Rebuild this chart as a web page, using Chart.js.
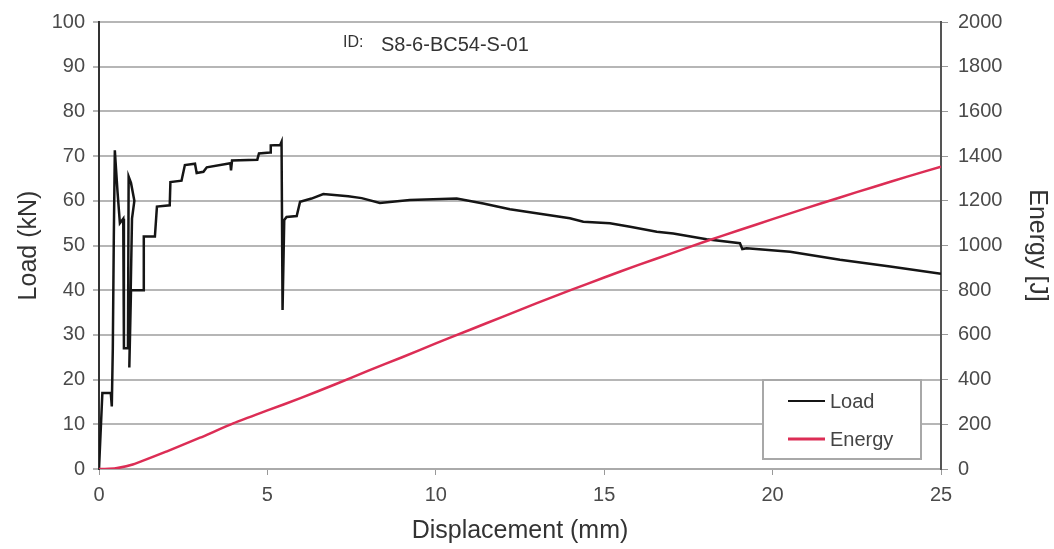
<!DOCTYPE html>
<html>
<head>
<meta charset="utf-8">
<script src="https://cdn.jsdelivr.net/npm/chart.js@4.4.1/dist/chart.umd.min.js"></script>
<style>
  html, body { margin: 0; padding: 0; background: #fff; }
  #wrap { width: 1054px; height: 549px; }
</style>
</head>
<body>
<div id="wrap"><canvas id="loadChart" width="1054" height="549"></canvas></div>
<script>
// Load curve (displacement in mm, load in kN)
const loadDisp = [0, 0.1, 0.35, 0.38, 0.41, 0.44, 0.47, 0.55, 0.62, 0.72, 0.74, 0.86, 0.88, 0.95, 1.05, 0.98, 0.9, 0.95, 1.32, 1.33, 1.66, 1.72, 2.1, 2.12, 2.45, 2.55, 2.85, 2.9, 3.1, 3.2, 3.9, 3.92, 3.95, 4.7, 4.75, 5.08, 5.1, 5.38, 5.42, 5.45, 5.5, 5.57, 5.87, 5.97, 6.31, 6.66, 7.4, 7.8, 8.34, 9.23, 10.62, 11.41, 12.2, 12.99, 13.98, 14.38, 15.17, 15.77, 16.56, 17.05, 18.04, 19.03, 19.1, 19.23, 20.52, 22.0, 23.49, 25.0];
const loadVals = [0, 17, 17, 14, 27, 52, 71.3, 62, 55, 56, 27, 27, 65.4, 64, 60, 56, 22.7, 40, 40, 52, 52, 58.7, 59, 64.2, 64.5, 68, 68.3, 66.2, 66.5, 67.5, 68.4, 66.8, 69, 69.2, 70.6, 70.8, 72.4, 72.5, 73.2, 35.6, 55.7, 56.4, 56.6, 59.8, 60.5, 61.5, 61, 60.6, 59.5, 60.2, 60.5, 59.4, 58.1, 57.2, 56.1, 55.3, 55.0, 54.2, 53.1, 52.7, 51.4, 50.5, 49.2, 49.4, 48.6, 46.8, 45.3, 43.7];

// Energy curve (displacement in mm, energy in J)
const energyDisp = [0, 0.1, 0.5, 1, 2, 3, 4, 5, 6, 7, 8, 9, 10, 11, 12, 13, 14, 15, 16, 17, 18, 19, 20, 21, 22, 23, 24, 25];
const energyVals = [0, 0, 3, 20, 78, 140, 205, 262, 318, 378, 440, 500, 562, 622, 682, 742, 800, 857, 912, 965, 1018, 1068, 1118, 1167, 1215, 1262, 1308, 1353];

const specimenId = 'S8-6-BC54-S-01';
const loadColor = '#151515';
const energyColor = '#dc2d55';

const toPoints = (xs, ys) => xs.map((x, i) => ({ x: x, y: ys[i] }));

// draws the ID caption and the boxed legend inside the plot
const overlayPlugin = {
  id: 'overlay',
  afterDatasetsDraw(chart) {
    const { ctx, chartArea } = chart;
    ctx.save();
    ctx.textBaseline = 'middle';
    ctx.fillStyle = '#333';
    ctx.font = '16px "Liberation Sans", Arial, sans-serif';
    ctx.fillText('ID:', chartArea.left + 244, 43);
    ctx.font = '20px "Liberation Sans", Arial, sans-serif';
    ctx.fillText(specimenId, chartArea.left + 282, 45);

    // legend box
    const bx = chartArea.right - 178, by = chartArea.bottom - 89, bw = 158, bh = 79;
    ctx.fillStyle = '#fff';
    ctx.fillRect(bx, by, bw, bh);
    ctx.strokeStyle = '#a8a8a8';
    ctx.lineWidth = 2;
    ctx.strokeRect(bx, by, bw, bh);
    const items = [['Load', loadColor, 2], ['Energy', energyColor, 3]];
    items.forEach((it, i) => {
      const y = by + 21 + i * 38;
      ctx.strokeStyle = it[1];
      ctx.lineWidth = it[2];
      ctx.beginPath();
      ctx.moveTo(bx + 25, y);
      ctx.lineTo(bx + 62, y);
      ctx.stroke();
      ctx.fillStyle = '#444';
      ctx.font = '20px "Liberation Sans", Arial, sans-serif';
      ctx.fillText(it[0], bx + 67, y + 1);
    });
    ctx.restore();
  }
};

const tickFont = { family: '"Liberation Sans", Arial, sans-serif', size: 20 };
const titleFont = { family: '"Liberation Sans", Arial, sans-serif', size: 25 };
const plainLabel = v => String(v);

const ctx = document.getElementById('loadChart').getContext('2d');
const loadChart = new Chart(ctx, {
  type: 'scatter',
  data: {
    datasets: [
      {
        label: 'Load',
        data: toPoints(loadDisp, loadVals),
        showLine: true,
        borderColor: loadColor,
        borderWidth: 2.5,
        pointRadius: 0,
        tension: 0,
        yAxisID: 'y',
        order: 2
      },
      {
        label: 'Energy',
        data: toPoints(energyDisp, energyVals),
        showLine: true,
        borderColor: energyColor,
        borderWidth: 2.5,
        pointRadius: 0,
        tension: 0.2,
        yAxisID: 'y2',
        order: 1
      }
    ]
  },
  options: {
    responsive: false,
    animation: false,
    layout: { padding: { top: 21, left: 0, right: 0, bottom: 0 } },
    plugins: {
      legend: { display: false },
      tooltip: { enabled: false }
    },
    scales: {
      x: {
        type: 'linear',
        min: 0,
        max: 25,
        ticks: { stepSize: 5, color: '#4a4a4a', font: tickFont, padding: 8, maxRotation: 0, callback: plainLabel },
        grid: { drawOnChartArea: false, tickLength: 6, color: '#999' },
        border: { color: '#aaa', width: 2 },
        title: { display: true, text: 'Displacement (mm)', color: '#333', font: titleFont, padding: { top: 0, bottom: 3 } },
        afterFit: s => { s.height = 80; }
      },
      y: {
        position: 'left',
        min: 0,
        max: 100,
        ticks: { stepSize: 10, color: '#4a4a4a', font: tickFont, padding: 8, callback: plainLabel },
        grid: { color: '#b6b6b6', lineWidth: 2, tickLength: 6 },
        border: { color: '#333', width: 2 },
        title: { display: true, text: 'Load (kN)', color: '#333', font: titleFont, padding: { top: 14, bottom: 0 } },
        afterFit: s => { s.width = 99; }
      },
      y2: {
        position: 'right',
        min: 0,
        max: 2000,
        ticks: { stepSize: 200, color: '#4a4a4a', font: tickFont, padding: 10, callback: plainLabel },
        grid: { drawOnChartArea: false, tickLength: 7, color: '#999' },
        border: { color: '#555', width: 2 },
        title: { display: true, text: 'Energy [J]', color: '#333', font: titleFont, padding: { top: 2, bottom: 0 } },
        afterFit: s => { s.width = 113; }
      }
    }
  },
  plugins: [overlayPlugin]
});
</script>
</body>
</html>
